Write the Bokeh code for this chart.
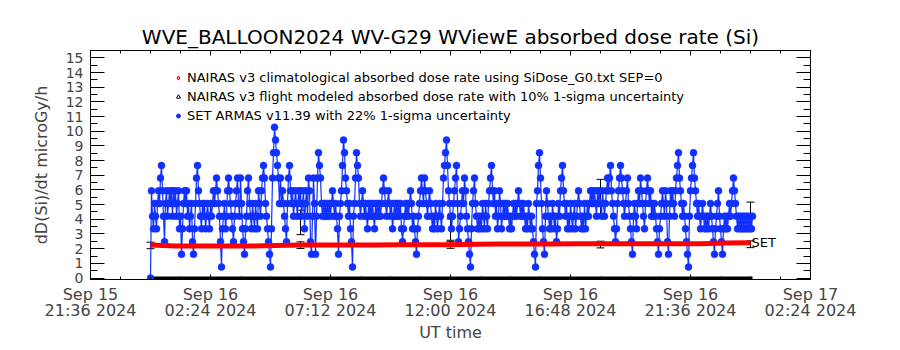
from bokeh.plotting import figure
from bokeh.models import (Range1d, FixedTicker, LinearAxis, Whisker, TeeHead,
                          ColumnDataSource, Legend, LegendItem)
from bokeh.embed import file_html
from bokeh.resources import INLINE
from bokeh.core.properties import value

FONT = "DejaVu Sans"

# ---------------- data (time = hours since 2024-09-16 00:00 UT) ----------------
x_tick_hours = [-2.4, 2.4, 7.2, 12.0, 16.8, 21.6, 26.4]
x_tick_labels = ["Sep 15\n21:36 2024", "Sep 16\n02:24 2024", "Sep 16\n07:12 2024",
                 "Sep 16\n12:00 2024", "Sep 16\n16:48 2024", "Sep 16\n21:36 2024",
                 "Sep 17\n02:24 2024"]
y_ticks = list(range(16))

# SET ARMAS quantised dose-rate levels (microGy/h); index 0 = zero
set_levels = [0.0, 0.75, 1.62, 2.48, 3.35, 4.21, 5.08, 5.94, 6.81, 7.67, 8.54, 9.40, 10.27]
set_step_h = 0.04
set_level_idx = [
    0, 7, 5, 4, 6, 5, 4, 6, 7, 6, 8, 9, 7, 5, 3, 6, 7, 5, 6, 7, 6, 7, 5, 7, 6, 7, 5, 6, 7, 4,
    5, 2, 4, 6, 7, 6, 7, 5, 6, 4, 5, 6, 3, 2, 4, 6, 8, 9, 7, 6, 5, 4, 6, 5, 6, 4, 5, 6, 5, 4,
    6, 5, 6, 7, 6, 7, 8, 7, 6, 5, 3, 1, 4, 5, 6, 4, 5, 7, 8, 7, 6, 5, 4, 3, 5, 6, 7, 8, 6, 5,
    8, 6, 4, 3, 2, 4, 5, 7, 8, 6, 5, 4, 6, 5, 4, 6, 5, 4, 7, 6, 5, 7, 8, 9, 8, 6, 5, 4, 3, 2,
    1, 4, 8, 10, 12, 11, 10, 9, 8, 6, 8, 6, 7, 6, 5, 4, 3, 6, 8, 9, 7, 6, 7, 5, 6, 7, 6, 5, 7, 6,
    7, 5, 6, 7, 4, 6, 7, 5, 8, 7, 3, 2, 5, 8, 6, 2, 5, 8, 10, 9, 8, 6, 5, 6, 5, 6, 5, 6, 5, 6,
    5, 6, 7, 6, 5, 6, 5, 4, 2, 5, 6, 7, 9, 11, 10, 8, 7, 6, 5, 6, 4, 3, 1, 5, 6, 8, 10, 9, 8, 6,
    5, 6, 7, 6, 5, 6, 5, 4, 6, 5, 6, 5, 6, 5, 4, 6, 5, 6, 5, 6, 5, 6, 7, 8, 7, 6, 5, 6, 7, 6,
    5, 6, 4, 5, 6, 5, 6, 5, 6, 5, 6, 4, 3, 4, 5, 6, 5, 6, 5, 6, 7, 6, 4, 5, 4, 3, 2, 4, 5, 6,
    7, 8, 7, 6, 8, 7, 6, 5, 6, 7, 6, 5, 4, 5, 4, 6, 5, 4, 5, 6, 5, 4, 6, 8, 9, 10, 11, 9, 7, 6,
    5, 4, 5, 6, 7, 8, 9, 6, 3, 4, 5, 6, 7, 6, 8, 7, 5, 4, 3, 2, 1, 4, 6, 7, 8, 6, 5, 4, 5, 4,
    5, 4, 6, 5, 4, 6, 5, 4, 6, 7, 8, 9, 7, 6, 7, 5, 6, 4, 5, 7, 6, 4, 5, 6, 5, 6, 5, 6, 5, 4,
    5, 4, 5, 6, 5, 6, 5, 6, 7, 6, 5, 6, 5, 6, 5, 4, 5, 4, 6, 5, 4, 5, 4, 3, 2, 1, 6, 7, 9, 10,
    8, 6, 4, 3, 2, 5, 7, 6, 5, 4, 5, 4, 6, 5, 4, 5, 3, 4, 6, 5, 7, 8, 9, 7, 6, 5, 6, 4, 5, 4,
    6, 5, 4, 5, 6, 4, 5, 6, 7, 6, 5, 4, 5, 4, 6, 4, 5, 6, 5, 6, 7, 6, 7, 6, 7, 6, 5, 7, 6, 7,
    6, 5, 7, 6, 5, 6, 7, 8, 7, 8, 9, 7, 6, 5, 4, 3, 4, 6, 7, 8, 9, 8, 7, 6, 5, 6, 7, 8, 6, 5,
    4, 3, 2, 5, 6, 5, 4, 6, 7, 6, 8, 7, 6, 5, 4, 6, 7, 8, 7, 6, 7, 5, 6, 5, 6, 5, 4, 3, 2, 4,
    5, 6, 7, 6, 5, 7, 6, 3, 2, 5, 7, 6, 7, 6, 5, 7, 8, 9, 10, 8, 7, 6, 5, 6, 5, 4, 3, 2, 1, 5,
    7, 8, 9, 10, 8, 7, 6, 5, 6, 5, 4, 5, 6, 5, 4, 5, 4, 5, 4, 5, 6, 5, 4, 3, 2, 4, 5, 6, 7, 5,
    4, 3, 2, 4, 5, 4, 5, 4, 5, 6, 5, 6, 7, 8, 7, 6, 5, 4, 5, 4, 5, 4, 5, 4, 5, 4, 5, 4, 5, 4,
    5, 4, 5,
]
set_time = [i * set_step_h for i in range(len(set_level_idx))]
set_dose = [set_levels[k] for k in set_level_idx]

# NAIRAS climatological (hourly)
clim_time = [0, 1, 2, 3, 4, 5, 6, 7, 8, 9, 10, 11, 12, 13, 14, 15, 16, 17, 18, 19,
             20, 21, 22, 23, 24]
clim_dose = [2.25, 2.18, 2.18, 2.18, 2.18, 2.22, 2.25, 2.25, 2.25, 2.25, 2.26, 2.26,
             2.26, 2.30, 2.32, 2.32, 2.32, 2.33, 2.33, 2.33, 2.33, 2.34, 2.34, 2.38, 2.40]

# NAIRAS flight modeled (drawn along zero)
flight_time = [0, 1, 2, 3, 4, 5, 6, 7, 8, 9, 10, 11, 12, 13, 14, 15, 16, 17, 18, 19,
               20, 21, 22, 23, 24.08]
flight_dose = [0, 0, 0, 0, 0, 0, 0, 0, 0, 0, 0, 0, 0, 0, 0, 0, 0, 0, 0, 0, 0, 0, 0, 0, 0]

# error bars
nairas_err_time = [0, 6, 12, 18, 24]
nairas_err_center = [2.22, 2.24, 2.25, 2.28, 2.30]
nairas_sigma = 0.10
set_err_time = [6, 12, 18, 24]
set_err_center = [3.79, 3.30, 5.51, 4.24]
set_sigma = 0.22

# ---------------- figure ----------------
p = figure(width=900, height=350, output_backend="svg", toolbar_location=None,
           x_range=Range1d(-2.4, 26.4), y_range=Range1d(-0.1, 15.5),
           min_border_left=90, min_border_right=90, min_border_top=50, min_border_bottom=71,
           x_axis_location=None, y_axis_location=None)
p.grid.visible = False
p.outline_line_color = "black"
p.outline_line_width = 1
p.background_fill_color = "white"
p.border_fill_color = "white"

p.title.text = "WVE_BALLOON2024 WV-G29 WViewE absorbed dose rate (Si)"
p.title.align = "center"
p.title.text_font = FONT
p.title.text_font_size = "20px"
p.title.text_font_style = "normal"
p.title.text_color = "black"
p.title.standoff = 4

x_minor = [-2.4 + 1.2 * k for k in range(25)]
y_minor = [0.5 * k for k in range(31)]


def style_x(ax, labels):
    ax.ticker = FixedTicker(ticks=x_tick_hours, minor_ticks=x_minor)
    ax.major_tick_in = 5
    ax.major_tick_out = 0
    ax.minor_tick_in = 3
    ax.minor_tick_out = 0
    ax.axis_line_color = "black"
    ax.major_tick_line_color = "black"
    ax.minor_tick_line_color = "black"
    if labels:
        ax.major_label_overrides = {t: s for t, s in zip(x_tick_hours, x_tick_labels)}
        ax.major_label_text_font = FONT
        ax.major_label_text_font_size = "16px"
        ax.major_label_text_line_height = 0.85
        ax.major_label_standoff = 5
        ax.axis_label = "UT time"
        ax.axis_label_text_font = FONT
        ax.axis_label_text_font_size = "16px"
        ax.axis_label_text_font_style = "normal"
        ax.axis_label_standoff = 0
    else:
        ax.major_label_text_font_size = "0px"


def style_y(ax, labels):
    ax.ticker = FixedTicker(ticks=y_ticks, minor_ticks=y_minor)
    ax.major_tick_in = 14
    ax.major_tick_out = 0
    ax.minor_tick_in = 7
    ax.minor_tick_out = 0
    ax.axis_line_color = "black"
    ax.major_tick_line_color = "black"
    ax.minor_tick_line_color = "black"
    if labels:
        ax.major_label_text_font = FONT
        ax.major_label_text_font_size = "14px"
        ax.major_label_standoff = 7
        ax.axis_label = "dD(Si)/dt microGy/h"
        ax.axis_label_text_font = FONT
        ax.axis_label_text_font_size = "16px"
        ax.axis_label_text_font_style = "normal"
        ax.axis_label_standoff = 12
    else:
        ax.major_label_text_font_size = "0px"


xb = LinearAxis(); style_x(xb, True); p.add_layout(xb, "below")
xt = LinearAxis(); style_x(xt, False); p.add_layout(xt, "above")
yl = LinearAxis(); style_y(yl, True); p.add_layout(yl, "left")
yr = LinearAxis(); style_y(yr, False); p.add_layout(yr, "right")

BLUE = "#1030ff"

# flight modeled along zero
p.line(flight_time, flight_dose, line_color="black", line_width=3)

# SET ARMAS
p.line(set_time, set_dose, line_color=BLUE, line_width=1.2)
p.scatter(set_time, set_dose, marker="circle", size=7, fill_color=BLUE, line_color=BLUE,
          line_width=0.5)

# climatological
p.line(clim_time, clim_dose, line_color="#ff0000", line_width=5)

# error bars
nsrc = ColumnDataSource(dict(t=nairas_err_time,
                             lo=[c * (1 - nairas_sigma) for c in nairas_err_center],
                             hi=[c * (1 + nairas_sigma) for c in nairas_err_center]))
ssrc = ColumnDataSource(dict(t=set_err_time,
                             lo=[c * (1 - set_sigma) for c in set_err_center],
                             hi=[c * (1 + set_sigma) for c in set_err_center]))
for src in (nsrc, ssrc):
    w = Whisker(source=src, base="t", lower="lo", upper="hi", dimension="height",
                line_color="black", line_width=1,
                lower_head=TeeHead(size=8, line_color="black", line_width=1),
                upper_head=TeeHead(size=8, line_color="black", line_width=1))
    p.add_layout(w)

p.text(x=[clim_time[-1]], y=[clim_dose[-1]], text=["SET"], text_font=value(FONT),
       text_font_size="13px", text_align="left", text_baseline="middle",
       text_color="black", x_offset=1)

# legend symbols (renderers hold no visible point)
nan = float("nan")
r_clim = p.scatter([nan], [nan], marker="diamond", size=9, fill_color=None, line_color="#ff0000", line_width=1.2)
r_flight = p.scatter([nan], [nan], marker="triangle", size=7, fill_color=None, line_color="black", line_width=1)
r_set = p.scatter([nan], [nan], marker="circle", size=6, fill_color=BLUE, line_color=BLUE)
legend = Legend(items=[
    LegendItem(label="NAIRAS v3 climatological absorbed dose rate using SiDose_G0.txt SEP=0", renderers=[r_clim]),
    LegendItem(label="NAIRAS v3 flight modeled absorbed dose rate with 10% 1-sigma uncertainty", renderers=[r_flight]),
    LegendItem(label="SET ARMAS v11.39 with 22% 1-sigma uncertainty", renderers=[r_set]),
], location=(83, 154))
legend.padding = 0
legend.margin = 0
legend.spacing = 0
legend.glyph_width = 10
legend.glyph_height = 19
legend.label_height = 19
legend.label_standoff = 4
legend.border_line_color = None
legend.background_fill_alpha = 0
legend.label_text_font = FONT
legend.label_text_font_size = "13px"
legend.label_text_color = "black"
p.add_layout(legend)

open("out.html", "w").write(file_html(p, INLINE))
